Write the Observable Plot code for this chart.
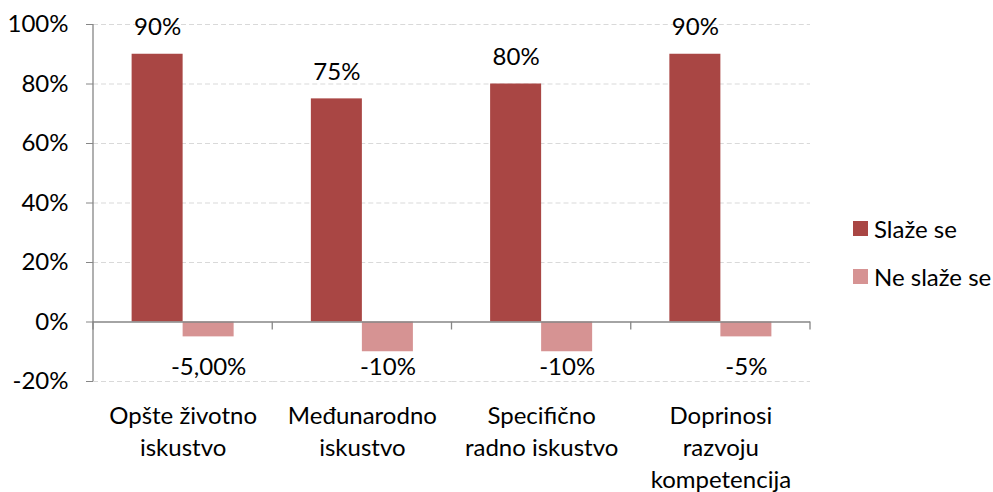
<!DOCTYPE html>
<html>
<head>
<meta charset="utf-8">
<script src="https://cdn.jsdelivr.net/npm/d3@7"></script>
<script src="https://cdn.jsdelivr.net/npm/@observablehq/plot@0.6"></script>
<style>
  html, body { margin: 0; padding: 0; background: #fff; }
  #wrap { position: relative; width: 993px; height: 492px; font-family: Lato, "Open Sans", sans-serif; }
  #legend { position: absolute; left: 853px; top: 214px; font-size: 24px; color: #000; }
  .item { display: flex; align-items: center; height: 28px; margin-bottom: 20px; white-space: nowrap; }
  .sw { width: 15px; height: 15px; margin-right: 6px; flex: none; }
</style>
</head>
<body>
<div id="wrap"></div>
<script>
const categories = ["Opšte životno\niskustvo", "Međunarodno\niskustvo", "Specifično\nradno iskustvo", "Doprinosi\nrazvoju\nkompetencija"];
const seriesNames = ["Slaže se", "Ne slaže se"];
const seriesColors = ["#A94644", "#D69393"];
const slazeValues = [90, 75, 80, 90];
const neSlazeValues = [-5, -10, -10, -5];
const slazeLabels = ["90%", "75%", "80%", "90%"];
const neSlazeLabels = ["-5,00%", "-10%", "-10%", "-5%"];
const yTicks = [-20, 0, 20, 40, 60, 80, 100];

const rows = [];
categories.forEach((c, i) => {
  rows.push({category: c, series: seriesNames[0], value: slazeValues[i], label: slazeLabels[i]});
  rows.push({category: c, series: seriesNames[1], value: neSlazeValues[i], label: neSlazeLabels[i]});
});

const plot = Plot.plot({
  width: 993,
  height: 492,
  marginTop: 24,
  marginBottom: 111,
  marginLeft: 93,
  marginRight: 183,
  style: {fontFamily: "Lato, 'Open Sans', sans-serif", fontSize: "24px", color: "#000", background: "#fff", overflow: "visible"},
  fx: {domain: categories, padding: 0, axis: null, round: false},
  x: {domain: seriesNames, paddingInner: 0, paddingOuter: 0.757, axis: null, round: false},
  y: {domain: [-20, 100], axis: null},
  color: {domain: seriesNames, range: seriesColors},
  marks: [
    Plot.ruleY(yTicks.filter(d => d !== 0), {y: d => d, stroke: "#d9d9d9", strokeWidth: 1.2, strokeDasharray: "5,3"}),
    Plot.barY(rows, {fx: "category", x: "series", y: "value", fill: "series"}),
    Plot.ruleY([0], {stroke: "#868686", strokeWidth: 1.3}),
    Plot.axisY({ticks: yTicks, tickFormat: d => d + "%", tickSize: 7, tickPadding: 18, fontSize: 24, stroke: "#868686", fill: "#000", label: null}),
    Plot.text(rows.filter(d => d.series === seriesNames[0]), {fx: "category", x: "series", y: "value", text: "label", dy: -27, fontSize: 24, fill: "#000"}),
    Plot.text(rows.filter(d => d.series === seriesNames[1]), {fx: "category", x: "series", text: "label", frameAnchor: "bottom", dy: -7, fontSize: 24, fill: "#000"}),
    Plot.text(categories, {fx: d => d, text: d => d, frameAnchor: "bottom", lineAnchor: "top", dy: 19, lineHeight: 1.35, fontSize: 24, fill: "#000"})
  ]
});

// y-axis domain line and category boundary ticks, positioned via the plot's own scales
const fxs = plot.scale("fx");
const ys = plot.scale("y");
const left = fxs.apply(categories[0]);
const right = fxs.apply(categories[categories.length - 1]) + fxs.bandwidth;
const bounds = categories.map(c => fxs.apply(c)).concat([right]);
const g = d3.select(plot).append("g").attr("stroke", "#868686").attr("stroke-width", 1.3);
g.append("line").attr("x1", left).attr("x2", left).attr("y1", ys.apply(100)).attr("y2", ys.apply(-20));
bounds.forEach(b => {
  g.append("line").attr("x1", b).attr("x2", b).attr("y1", ys.apply(0)).attr("y2", ys.apply(0) + 8);
});

const wrap = document.getElementById("wrap");
wrap.appendChild(plot);
const legend = document.createElement("div");
legend.id = "legend";
seriesNames.forEach((s, i) => {
  const it = document.createElement("div");
  it.className = "item";
  const sw = document.createElement("span");
  sw.className = "sw";
  sw.style.background = seriesColors[i];
  const t = document.createElement("span");
  t.textContent = s;
  it.appendChild(sw); it.appendChild(t);
  legend.appendChild(it);
});
wrap.appendChild(legend);
</script>
</body>
</html>
